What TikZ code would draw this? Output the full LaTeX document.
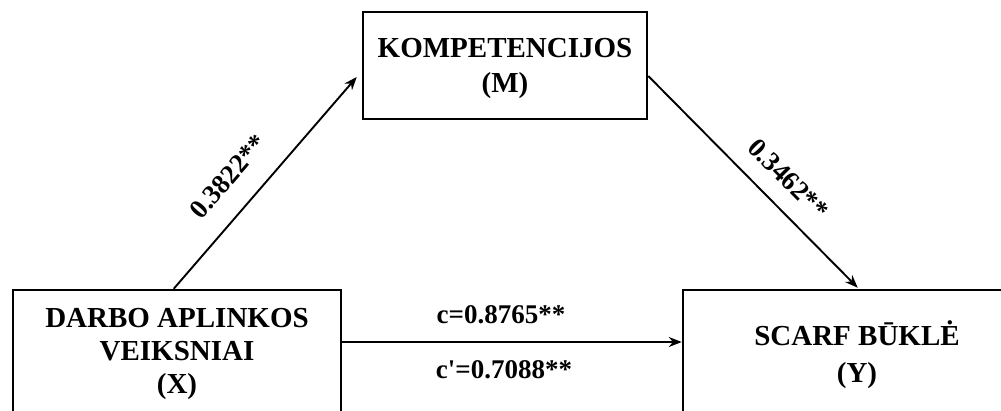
\documentclass[tikz,border=0pt]{standalone}
\usepackage{fontspec}
\setmainfont{Liberation Serif}
\usetikzlibrary{arrows.meta,calc}
\begin{document}
\begin{tikzpicture}[x=1pt,y=-1pt,
  box/.style={draw, line width=2.5pt, rectangle, inner sep=0pt, align=center},
  link/.style={line width=1.9pt, -{Stealth[length=13pt,width=10pt]}},
  coef/.style={font=\fontsize{27}{30}\selectfont\bfseries, inner sep=0pt}]
\useasboundingbox (0,0) rectangle (1001,410);
\clip (0,0) rectangle (1001,410);

% variables of the mediation model
\node[box, font=\fontsize{29}{35.5}\selectfont\bfseries,
      minimum width=284pt, minimum height=107pt] (M) at (505,65.5)
      {\rule{0pt}{25.5pt}KOMPETENCIJOS\\(M)};
\node[box, font=\fontsize{29}{33}\selectfont\bfseries,
      minimum width=328pt, minimum height=128pt] (X) at (177,354)
      {DARBO APLINKOS\\VEIKSNIAI\\(X)};
\node[box, font=\fontsize{29}{37}\selectfont\bfseries,
      minimum width=348pt, minimum height=129pt] (Y) at (857,354.5)
      {SCARF BŪKLĖ\\(Y)};

% paths a and b
\draw[link] ($(X.north west)+(162,0)$) -- ($(M.west)+(-5,11.5)$)
  node[coef, pos=0.43, sloped, above=22pt] (a) {0.3822**};
\draw[link] ($(M.east)+(0,10.5)$) -- ($(Y.north west)+(176,-1)$)
  node[coef, pos=0.576, sloped, above=17pt] (b) {0.3462**};

% total and direct effect
\coordinate (h) at (0,342);
\draw[link] (X.east |- h) -- (Y.west |- h);
\node[coef] (c) at (501,315) {c=0.8765**};
\node[coef] (cp) at (504,370) {c\textquotesingle=0.7088**};
\end{tikzpicture}
\end{document}
